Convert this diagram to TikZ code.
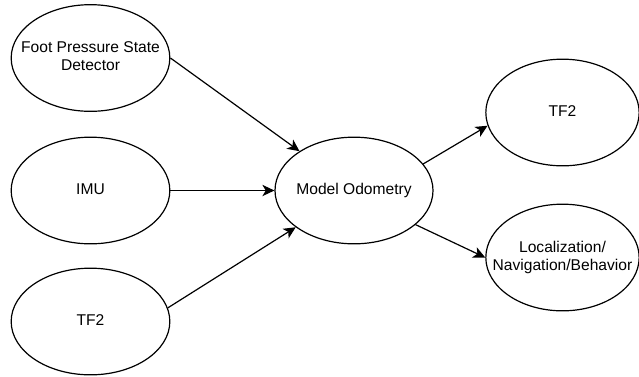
\documentclass[tikz,border=0pt]{standalone}
\usepackage{fontspec}
\setmainfont{Liberation Sans}
\usetikzlibrary{arrows.meta,shapes.geometric}

\newcommand{\lbl}[1]{\makebox[0pt]{\begin{tabular}{@{}c@{}}#1\end{tabular}}}

\begin{document}
\begin{tikzpicture}[x=0.75pt,y=-0.75pt,
  ell/.style={draw,ellipse,line width=0.9pt,inner sep=0pt,minimum width=119pt,minimum height=80pt,font=\fontsize{11.7}{13.5}\selectfont},
  ellr/.style={ell,minimum width=115pt},
  flow/.style={line width=0.9pt,-{Stealth[length=9pt,width=8.5pt,inset=2.5pt]}}]

\useasboundingbox (0,0) rectangle (639,376);

\node[ell] (foot) at (90.5,58) {\lbl{Foot Pressure State\\Detector}};

\node[ell] (imu) at (90.5,190.5) {\lbl{IMU}};

\node[ell] (tfin) at (90.5,321.5) {\lbl{TF2}};

\node[ell,minimum width=118.5pt] (odom) at (354,190.5) {\lbl{Model Odometry}};

\node[ellr] (tfout) at (562.5,112.5) {\lbl{TF2}};

\node[ellr] (loc) at (562.5,257.5) {\lbl{Localization/\\Navigation/Behavior}};

% inputs
\draw[flow] (foot.east) -- (odom);
\draw[flow] (imu.east) -- (odom.west);
\draw[flow] (tfin.10) -- (odom);

% outputs
\draw[flow] (odom.21) -- (tfout.190);
\draw[flow] (odom.-29) -- (loc.west);

\end{tikzpicture}
\end{document}
